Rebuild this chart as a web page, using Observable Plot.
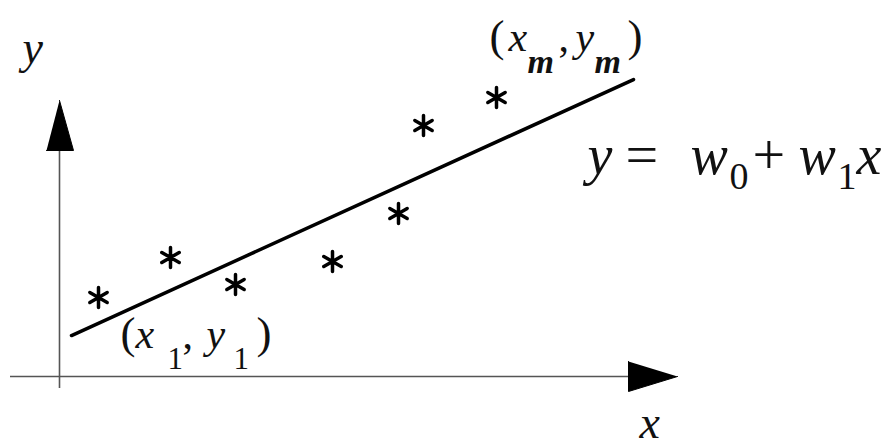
<!DOCTYPE html>
<html>
<head>
<meta charset="utf-8">
<script src="https://cdn.jsdelivr.net/npm/d3@7"></script>
<script src="https://cdn.jsdelivr.net/npm/@observablehq/plot@0.6"></script>
<style>
  html, body { margin: 0; padding: 0; background: #fff; }
  #chart svg { display: block; }
</style>
</head>
<body>
<div id="chart"></div>
<script>
// Data points (x, y) in diagram units (origin at axis crossing)
const pointX = [39, 111, 176, 273, 339, 364, 437];
const pointY = [79, 119, 92, 115, 163, 251, 279];

// Fitted line y = w0 + w1 x, drawn between these x values
const fitX = [12, 574];
const w0 = 35.5;
const w1 = 0.4555;

// Axes extents
const xAxisX = [-49, 569];
const yAxisY = [-12, 226];
// Arrow heads (triangles)
const xArrowX = [569, 569, 618];
const xArrowY = [15, -15, 0];
const yArrowX = [-13, 14, 0];
const yArrowY = [226, 226, 276];

// Text pieces: text, anchor x, anchor y, kind
const labelText = ["y", "x",
  "(", "x", "1", ",", "y", "1", ")",
  "(", "x", "m", ",", "y", "m", ")",
  "y", "=", "w", "0", "+", "w", "1", "x"];
const labelX = [-37, 580,
  61, 76, 108, 123, 147, 174, 197,
  430, 449, 468, 499, 516, 535, 568,
  528, 566, 631, 670, 693, 739, 778, 797];
const labelY = [314, -61,
  29, 29, 8, 29, 29, 8, 29,
  326, 326, 304, 326, 326, 304, 326,
  203, 203, 203, 188, 203, 203, 188, 203];
const labelKind = ["axis", "axis",
  "paren", "var", "sub", "main", "var", "sub", "paren",
  "paren", "var", "msub", "main", "var", "msub", "paren",
  "evar", "eop", "evar", "esub", "eop", "evar", "esub", "evar"];

const labels = labelText.map((t, i) => ({t, x: labelX[i], y: labelY[i], k: labelKind[i]}));
const fit = fitX.map(x => ({x, y: w0 + w1 * x}));
const points = pointX.map((x, i) => ({x, y: pointY[i]}));

const styles = {
  axis: {size: 46, italic: true, weight: "normal"},
  paren: {size: 45, italic: false, weight: "normal"},
  main: {size: 42, italic: false, weight: "normal"},
  var: {size: 42, italic: true, weight: "normal"},
  sub: {size: 31, italic: false, weight: "normal"},
  msub: {size: 34, italic: true, weight: "bold"},
  evar: {size: 56, italic: true, weight: "normal"},
  eop: {size: 58, italic: false, weight: "normal"},
  esub: {size: 38, italic: false, weight: "normal"}
};

const textMarks = Object.entries(styles).map(([k, s]) =>
  Plot.text(labels.filter(d => d.k === k), {
    x: "x", y: "y", text: "t",
    textAnchor: "start", lineAnchor: "bottom",
    fontSize: s.size, fontStyle: s.italic ? "italic" : "normal",
    fontWeight: s.weight,
    fontFamily: "Liberation Serif",
    fill: "#111"
  })
);

const chart = Plot.plot({
  width: 884,
  height: 446,
  margin: 0,
  x: {domain: [-59, 825], axis: null},
  y: {domain: [-70, 376], axis: null},
  style: {background: "#fff"},
  marks: [
    Plot.ruleY([0], {x1: xAxisX[0], x2: xAxisX[1], stroke: "#555", strokeWidth: 1.6}),
    Plot.ruleX([0], {y1: yAxisY[0], y2: yAxisY[1], stroke: "#555", strokeWidth: 1.6}),
    Plot.line(xArrowX.map((x, i) => ({x, y: xArrowY[i]})), {x: "x", y: "y", fill: "#000", stroke: "#000", strokeWidth: 1}),
    Plot.line(yArrowX.map((x, i) => ({x, y: yArrowY[i]})), {x: "x", y: "y", fill: "#000", stroke: "#000", strokeWidth: 1}),
    Plot.line(fit, {x: "x", y: "y", stroke: "#000", strokeWidth: 3.5}),
    Plot.dot(points, {x: "x", y: "y", symbol: "asterisk", r: 9.5, stroke: "#000", strokeWidth: 3.5, strokeLinecap: "round"}),
    ...textMarks
  ]
});
document.getElementById("chart").append(chart);
</script>
</body>
</html>
